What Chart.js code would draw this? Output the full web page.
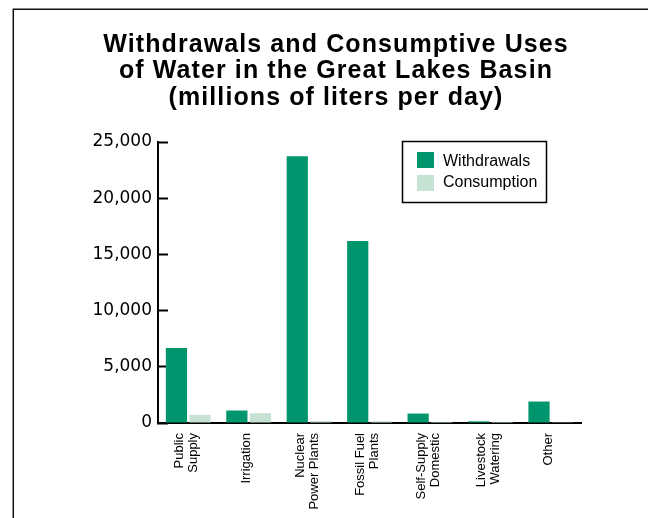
<!DOCTYPE html>
<html>
<head>
<meta charset="utf-8">
<title>Great Lakes Basin water use</title>
<script src="https://cdn.jsdelivr.net/npm/chart.js@4.4.0/dist/chart.umd.min.js"></script>
<style>
  html, body { margin: 0; padding: 0; background: #ffffff; }
  #wrap { width: 648px; height: 518px; position: relative; }
</style>
</head>
<body>
<div id="wrap"><canvas id="chart" width="648" height="518"></canvas></div>
<script>
// Water use categories (two-line labels as arrays)
const categories = [
  ['Public', 'Supply'],
  ['Irrigation'],
  ['Nuclear', 'Power Plants'],
  ['Fossil Fuel', 'Plants'],
  ['Self-Supply', 'Domestic'],
  ['Livestock', 'Watering'],
  ['Other']
];

// Millions of liters per day
const withdrawals = [6670, 1110, 23740, 16190, 840, 150, 1910];
const consumption = [730, 870, 180, 150, 100, 100, 70];

const seriesNames = ['Withdrawals', 'Consumption'];
const seriesColors = ['#00966d', '#c5e2d3'];

const yTicks = [0, 5000, 10000, 15000, 20000, 25000];

const titleLines = [
  'Withdrawals and Consumptive Uses',
  'of Water in the Great Lakes Basin',
  '(millions of liters per day)'
];

const SANS = "'Liberation Sans', Arial, Helvetica, sans-serif";

// Thin frame along the left and top edges of the page
const framePlugin = {
  id: 'frame',
  beforeDraw(chart) {
    const ctx = chart.ctx;
    ctx.save();
    ctx.strokeStyle = '#111';
    ctx.lineWidth = 1.5;
    ctx.beginPath();
    ctx.moveTo(13.3, chart.height);
    ctx.lineTo(13.3, 9.3);
    ctx.lineTo(chart.width, 9.3);
    ctx.stroke();
    ctx.restore();
  }
};

// Three-line bold heading with slightly open letter spacing
const headingPlugin = {
  id: 'heading',
  afterDraw(chart) {
    const ctx = chart.ctx;
    ctx.save();
    ctx.font = 'bold 25px ' + SANS;
    ctx.fillStyle = '#000';
    ctx.textAlign = 'center';
    ctx.textBaseline = 'alphabetic';
    if ('letterSpacing' in ctx) ctx.letterSpacing = '1.1px';
    titleLines.forEach((line, i) => {
      ctx.fillText(line, 336, 52 + i * 26.3);
    });
    ctx.restore();
  }
};

// Vertical category labels under the x axis, each block centred on its category
const categoryLabelPlugin = {
  id: 'categoryLabels',
  afterDraw(chart) {
    const xs = chart.scales.x;
    const ctx = chart.ctx;
    const pitch = 14;
    ctx.save();
    ctx.font = '13px ' + SANS;
    ctx.fillStyle = '#000';
    ctx.textAlign = 'right';
    ctx.textBaseline = 'middle';
    chart.data.labels.forEach((label, i) => {
      const lines = Array.isArray(label) ? label : [label];
      const cx = xs.getPixelForTick(i) - 2;
      const top = chart.chartArea.bottom + 10;
      lines.forEach((line, j) => {
        const x = cx + (j - (lines.length - 1) / 2) * pitch;
        ctx.save();
        ctx.translate(x, top);
        ctx.rotate(-Math.PI / 2);
        ctx.fillText(line, 0, 0);
        ctx.restore();
      });
    });
    ctx.restore();
  }
};

// Boxed legend in the upper right of the plot
const boxLegendPlugin = {
  id: 'boxLegend',
  afterDraw(chart) {
    const ctx = chart.ctx;
    ctx.save();
    ctx.strokeStyle = '#000';
    ctx.lineWidth = 1.5;
    ctx.strokeRect(402.5, 141.5, 144, 61);
    ctx.font = '16px ' + SANS;
    ctx.textAlign = 'left';
    ctx.textBaseline = 'middle';
    chart.data.datasets.forEach((ds, i) => {
      const y = 152 + i * 23;
      ctx.fillStyle = ds.backgroundColor;
      ctx.fillRect(417, y, 17, 16);
      ctx.fillStyle = '#000';
      ctx.fillText(ds.label, 443, y + 9.5 - i * 2);
    });
    ctx.restore();
  }
};

new Chart(document.getElementById('chart'), {
  type: 'bar',
  data: {
    labels: categories,
    datasets: [
      {
        label: seriesNames[0],
        data: withdrawals,
        backgroundColor: seriesColors[0],
        categoryPercentage: 0.78,
        barPercentage: 0.9
      },
      {
        label: seriesNames[1],
        data: consumption,
        backgroundColor: seriesColors[1],
        categoryPercentage: 0.78,
        barPercentage: 0.9
      }
    ]
  },
  options: {
    responsive: false,
    animation: false,
    layout: { padding: { left: 0, right: 67, top: 142, bottom: 0 } },
    plugins: {
      legend: { display: false },
      title: { display: false },
      tooltip: { enabled: false }
    },
    scales: {
      x: {
        z: 1,
        grid: { display: true, drawOnChartArea: false, drawTicks: false },
        border: { display: true, color: '#000', width: 2 },
        ticks: { display: false },
        afterFit(scale) { scale.height = 95; }
      },
      y: {
        z: 1,
        min: yTicks[0],
        max: yTicks[yTicks.length - 1],
        afterBuildTicks(scale) {
          scale.ticks = yTicks.map(v => ({ value: v }));
        },
        grid: {
          drawOnChartArea: false,
          drawTicks: true,
          tickLength: -10,
          tickColor: '#000',
          tickWidth: 2
        },
        border: { display: true, color: '#000', width: 2 },
        ticks: {
          padding: 16,
          color: '#000',
          font: { family: "'DejaVu Sans', sans-serif", size: 17 },
          callback: v => Number(v).toLocaleString('en-US')
        },
        afterFit(scale) { scale.width = 158; }
      }
    }
  },
  plugins: [framePlugin, headingPlugin, categoryLabelPlugin, boxLegendPlugin]
});
</script>
</body>
</html>
